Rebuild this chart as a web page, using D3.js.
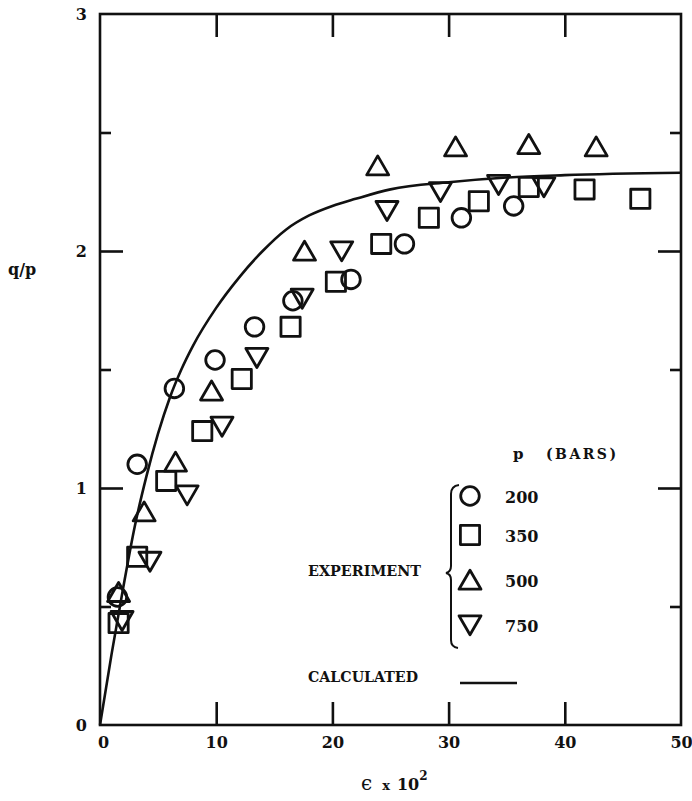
<!DOCTYPE html>
<html lang="en">
<head>
<meta charset="UTF-8" />
<title>q/p vs strain</title>
<script src="https://d3js.org/d3.v7.min.js"></script>
<style>
    body { margin: 0; background: #fff; }
    svg { display: block; }
    .lbl { font-family: "DejaVu Serif", serif; font-weight: bold; fill: #111; }
</style>
</head>
<body>
<div id="viz"></div>
<script>
    // --- Data ---
    const p200 = [[1.5,0.54],[3.2,1.10],[6.4,1.42],[9.9,1.54],[13.3,1.68],[16.6,1.79],[21.6,1.88],[26.2,2.03],[31.1,2.14],[35.6,2.19]];
    const p350 = [[1.6,0.43],[3.2,0.71],[5.7,1.03],[8.8,1.24],[12.2,1.46],[16.4,1.68],[20.3,1.87],[24.2,2.03],[28.3,2.14],[32.6,2.21],[36.9,2.27],[41.7,2.26],[46.5,2.22]];
    const p500 = [[1.6,0.56],[3.8,0.90],[6.5,1.11],[9.6,1.41],[17.6,2.00],[23.9,2.36],[30.6,2.44],[36.9,2.45],[42.7,2.44]];
    const p750 = [[1.9,0.44],[4.3,0.69],[7.5,0.97],[10.5,1.26],[13.5,1.55],[17.4,1.80],[20.8,2.00],[24.7,2.17],[29.3,2.25],[34.3,2.28],[38.2,2.27]];
    const calculated = [[0,0],[1,0.30],[2,0.58],[3,0.84],[4,1.05],[5,1.23],[6,1.38],[7,1.50],[8,1.60],[10,1.76],[12,1.89],[14,2.00],[16,2.09],[18,2.15],[20,2.19],[22,2.22],[25,2.26],[30,2.29],[35,2.31],[40,2.32],[50,2.33]];

    const xTickLabels = [0, 10, 20, 30, 40, 50];
    const xMajorTicks = [10, 20, 30, 40];
    const yTickLabels = [0, 1, 2, 3];
    const yMajorTicks = [1, 2];
    const yMinorTicks = [0.5, 1.5, 2.5];
    const legendItems = [
        {label: "200", shape: "circle"},
        {label: "350", shape: "square"},
        {label: "500", shape: "up"},
        {label: "750", shape: "down"}
    ];

    // --- Setup ---
    const W = 692, H = 801;
    const svg = d3.select("#viz").append("svg").attr("width", W).attr("height", H);
    svg.append("rect").attr("width", W).attr("height", H).attr("fill", "#fff");

    const x = d3.scaleLinear().domain([0, 50]).range([100, 681]);
    const y = d3.scaleLinear().domain([0, 3]).range([725, 14]);
    const ink = "#111";

    // marker shapes
    function shapePath(shape) {
        if (shape === "circle") return d3.symbol(d3.symbolCircle, Math.PI * 9.3 * 9.3)();
        if (shape === "square") return "M-9.6,-9.6H9.6V9.6H-9.6Z";
        if (shape === "up") return "M0,-9.8L11,9.2L-11,9.2Z";
        return "M0,9.8L11,-9.2L-11,-9.2Z";
    }

    // --- Frame and ticks ---
    svg.append("rect")
        .attr("x", x(0)).attr("y", y(3))
        .attr("width", x(50) - x(0)).attr("height", y(0) - y(3))
        .attr("fill", "none").attr("stroke", ink).attr("stroke-width", 2.6);

    function tickAxis(axis, tr) {
        const g = svg.append("g").attr("transform", tr).call(axis);
        g.select(".domain").remove();
        g.selectAll("line").attr("stroke", ink).attr("stroke-width", 2.6);
        return g;
    }
    tickAxis(d3.axisBottom(x).tickValues(xMajorTicks).tickSize(-23).tickFormat(""), `translate(0,${y(0)})`);
    tickAxis(d3.axisTop(x).tickValues(xMajorTicks).tickSize(-23).tickFormat(""), `translate(0,${y(3)})`);
    tickAxis(d3.axisLeft(y).tickValues(yMajorTicks).tickSize(-23).tickFormat(""), `translate(${x(0)},0)`);
    tickAxis(d3.axisLeft(y).tickValues(yMinorTicks).tickSize(-11).tickFormat(""), `translate(${x(0)},0)`);
    tickAxis(d3.axisRight(y).tickValues(yMajorTicks).tickSize(-23).tickFormat(""), `translate(${x(50)},0)`);
    tickAxis(d3.axisRight(y).tickValues(yMinorTicks).tickSize(-11).tickFormat(""), `translate(${x(50)},0)`);

    // tick labels
    const xl = svg.append("g").attr("transform", `translate(0,${y(0)})`)
        .call(d3.axisBottom(x).tickValues(xTickLabels).tickFormat(d3.format("d")).tickSize(0).tickPadding(12));
    xl.select(".domain").remove();
    xl.selectAll("text").attr("class", "lbl").attr("font-size", 16).attr("dx", d => d === 0 ? 3 : 0);

    const yl = svg.append("g").attr("transform", `translate(${x(0)},0)`)
        .call(d3.axisLeft(y).tickValues(yTickLabels).tickFormat(d3.format("d")).tickSize(0).tickPadding(13));
    yl.select(".domain").remove();
    yl.selectAll("text").attr("class", "lbl").attr("font-size", 16);

    // axis titles
    svg.append("text").attr("class", "lbl").attr("x", 8).attr("y", 275)
        .attr("font-size", 16).text("q/p");
    const xt = svg.append("text").attr("class", "lbl").attr("x", 361).attr("y", 790).attr("font-size", 16);
    xt.append("tspan").attr("font-size", 20).attr("font-weight", "normal").text("ϵ");
    xt.append("tspan").attr("dx", 10).attr("font-size", 13).text("x");
    xt.append("tspan").attr("dx", 7).text("10");
    xt.append("tspan").attr("dy", -10).attr("font-size", 12).text("2");

    // --- Calculated curve ---
    const line = d3.line().x(d => x(d[0])).y(d => y(d[1])).curve(d3.curveMonotoneX);
    svg.append("path").datum(calculated)
        .attr("d", line).attr("fill", "none")
        .attr("stroke", ink).attr("stroke-width", 2.6);

    // --- Experimental points ---
    const series = [
        {data: p200, shape: "circle"},
        {data: p350, shape: "square"},
        {data: p500, shape: "up"},
        {data: p750, shape: "down"}
    ];
    series.forEach(s => {
        svg.append("g").selectAll("path").data(s.data).join("path")
            .attr("transform", d => `translate(${x(d[0])},${y(d[1])})`)
            .attr("d", shapePath(s.shape))
            .attr("fill", "none").attr("stroke", ink)
            .attr("stroke-width", 2.8).attr("stroke-linejoin", "round");
    });

    // --- Legend ---
    const lg = svg.append("g");
    lg.append("text").attr("class", "lbl").attr("x", 513).attr("y", 459).attr("font-size", 15).text("p");
    lg.append("text").attr("class", "lbl").attr("x", 546).attr("y", 459).attr("font-size", 14)
        .attr("textLength", 70).attr("lengthAdjust", "spacing").text("(BARS)");

    const legendY = [496, 535, 580, 625];
    legendItems.forEach((d, i) => {
        lg.append("path")
            .attr("transform", `translate(470,${legendY[i]})`)
            .attr("d", shapePath(d.shape))
            .attr("fill", "none").attr("stroke", ink)
            .attr("stroke-width", 2.8).attr("stroke-linejoin", "round");
        lg.append("text").attr("class", "lbl").attr("x", 505).attr("y", legendY[i] + 7)
            .attr("font-size", 16).text(d.label);
    });

    // brace
    lg.append("path")
        .attr("d", "M459,485 Q451,486 451,494 L451,566 Q451,572 446,573 Q451,574 451,580 L451,640 Q451,647 458,648")
        .attr("fill", "none").attr("stroke", ink).attr("stroke-width", 2);

    lg.append("text").attr("class", "lbl").attr("x", 308).attr("y", 576).attr("font-size", 14)
        .attr("textLength", 113).attr("lengthAdjust", "spacingAndGlyphs").text("EXPERIMENT");
    lg.append("text").attr("class", "lbl").attr("x", 308).attr("y", 682).attr("font-size", 14)
        .attr("textLength", 110).attr("lengthAdjust", "spacingAndGlyphs").text("CALCULATED");
    lg.append("line").attr("x1", 460).attr("x2", 517).attr("y1", 683).attr("y2", 683)
        .attr("stroke", ink).attr("stroke-width", 2.6);
</script>
</body>
</html>
